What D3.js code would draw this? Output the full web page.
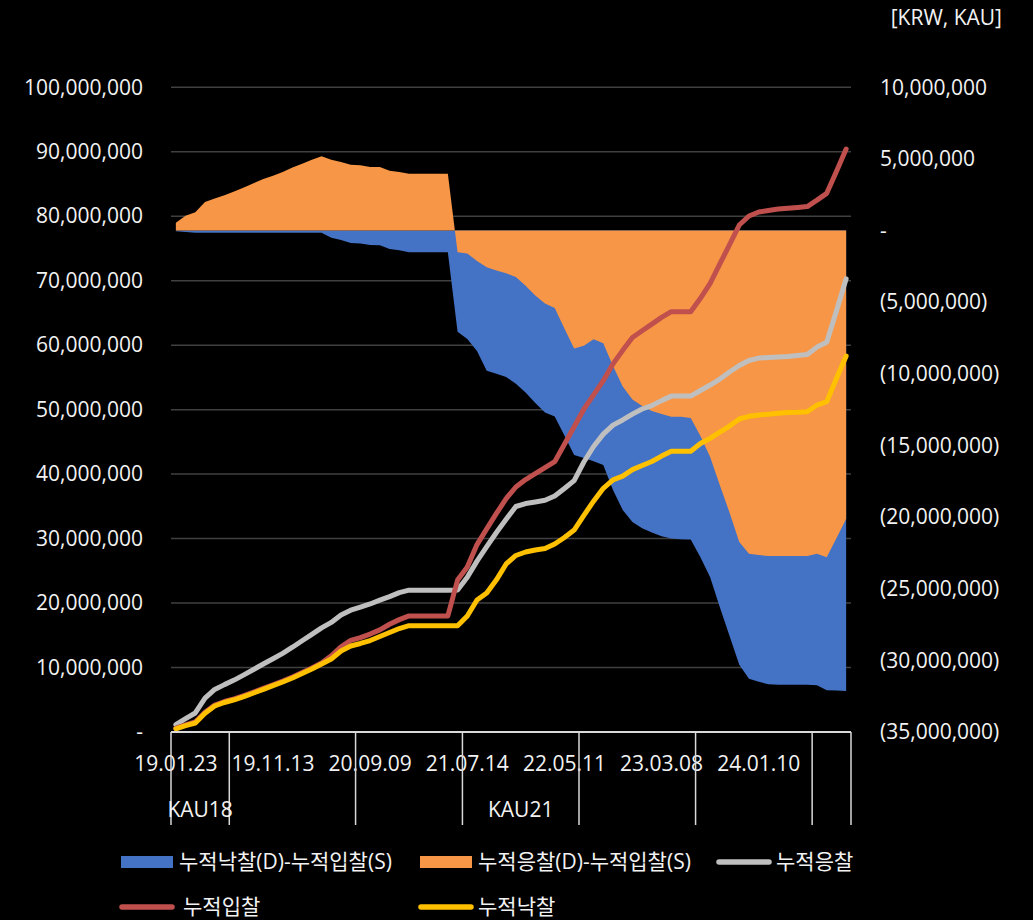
<!DOCTYPE html>
<meta charset="utf-8">
<style>
body {
  margin: 0;
  background-color: #000;
}
svg { display: block; }
.axis text,
.lbl {
  font: 21px "Open Sans", "Noto Sans CJK KR", sans-serif;
  fill: #f2f2f2;
}
.axis path,
.axis line { display: none; }
.grid line {
  stroke: #404040;
  stroke-width: 1.5px;
}
</style>
<body>
<svg id="chart" width="1033" height="920"></svg>
<script src="https://d3js.org/d3.v7.min.js"></script>
<script>
// values in millions (KRW, KAU)
var nCats = 70;
var dateLabels = ["19.01.23", "19.11.13", "20.09.09", "21.07.14", "22.05.11", "23.03.08", "24.01.10"];
var dateEvery = 10;
var groupBounds = [0, 6, 19, 30, 42, 54, 66, 70];
var groupNames = ["KAU18", "", "", "KAU21", "", "", ""];

// 누적응찰
var cumOffer = [1.15, 2.07, 2.95, 5.24, 6.6, 7.35, 8.05, 8.86, 9.7, 10.55,
  11.36, 12.2, 13.15, 14.16, 15.15, 16.16, 17.0, 18.15, 18.9, 19.37,
  19.86, 20.45, 21.0, 21.62, 22.0, 22.0, 22.0, 22.0, 22.0, 22.03,
  24.0, 26.5, 28.75, 30.95, 33.0, 34.98, 35.44, 35.68, 35.94, 36.6,
  37.77, 39.0, 41.88, 44.28, 46.2, 47.6, 48.4, 49.3, 50.1, 50.64,
  51.4, 52.1, 52.1, 52.1, 52.97, 53.82, 54.75, 55.84, 56.85, 57.62,
  58.0, 58.09, 58.17, 58.24, 58.4, 58.55, 59.7, 60.44, 65.3, 70.3];
// 누적입찰
var cumBid = [0.6, 1.1, 1.55, 3.05, 4.18, 4.73, 5.15, 5.65, 6.2, 6.77,
  7.33, 7.91, 8.53, 9.22, 9.92, 10.7, 11.82, 13.22, 14.21, 14.64,
  15.19, 15.84, 16.71, 17.43, 18.01, 18.01, 18.01, 18.01, 18.01, 23.57,
  25.6, 29.07, 31.5, 33.9, 36.2, 38.0, 39.15, 40.07, 41.0, 41.93,
  44.64, 47.35, 50.07, 52.3, 54.5, 57.1, 59.2, 61.2, 62.23, 63.27,
  64.31, 65.2, 65.2, 65.2, 67.27, 69.6, 72.6, 75.6, 78.64, 80.04,
  80.66, 80.89, 81.13, 81.25, 81.37, 81.5, 82.5, 83.55, 86.94, 90.43];
// 누적낙찰
var cumWin = [0.5, 1.0, 1.4, 2.9, 4.03, 4.58, 5.0, 5.5, 6.05, 6.62,
  7.18, 7.76, 8.38, 9.07, 9.77, 10.55, 11.32, 12.56, 13.34, 13.73,
  14.19, 14.81, 15.43, 16.05, 16.49, 16.49, 16.49, 16.49, 16.49, 16.49,
  18.0, 20.47, 21.56, 23.6, 26.06, 27.38, 27.92, 28.23, 28.46, 29.16,
  30.17, 31.33, 33.6, 35.8, 37.8, 39.1, 39.7, 40.7, 41.34, 41.96,
  42.8, 43.55, 43.55, 43.55, 44.75, 45.55, 46.53, 47.46, 48.55, 48.97,
  49.17, 49.3, 49.44, 49.56, 49.6, 49.68, 50.72, 51.23, 54.83, 58.32];
// 누적낙찰(D)-누적입찰(S)
var diffWin = [-0.05, -0.1, -0.15, -0.15, -0.15, -0.15, -0.15, -0.15, -0.15, -0.15,
  -0.15, -0.15, -0.15, -0.15, -0.15, -0.15, -0.5, -0.66, -0.87, -0.91,
  -1.0, -1.03, -1.28, -1.38, -1.52, -1.52, -1.52, -1.52, -1.52, -7.06,
  -7.57, -8.4, -9.78, -10.0, -10.22, -10.7, -11.3, -12.04, -12.7, -12.98,
  -14.3, -15.67, -15.88, -16.1, -16.37, -18.1, -19.5, -20.35, -20.77, -21.08,
  -21.33, -21.5, -21.54, -21.56, -22.8, -24.2, -26.3, -28.3, -30.3, -31.28,
  -31.5, -31.66, -31.7, -31.7, -31.7, -31.7, -31.73, -32.08, -32.1, -32.13];
// 누적응찰(D)-누적입찰(S)
var diffOffer = [0.55, 1.04, 1.28, 2.0, 2.23, 2.46, 2.72, 3.0, 3.3, 3.6,
  3.83, 4.09, 4.4, 4.67, 4.95, 5.19, 4.95, 4.79, 4.6, 4.56,
  4.44, 4.44, 4.18, 4.09, 3.97, 3.97, 3.97, 3.97, 3.97, -1.52,
  -1.6, -2.12, -2.56, -2.79, -2.98, -3.24, -3.85, -4.53, -5.09, -5.4,
  -6.84, -8.23, -8.04, -7.59, -7.87, -9.46, -10.89, -11.8, -12.25, -12.6,
  -12.8, -13.0, -13.0, -13.09, -14.34, -15.8, -17.77, -19.69, -21.73, -22.55,
  -22.65, -22.72, -22.72, -22.72, -22.72, -22.71, -22.55, -22.81, -21.47, -20.14];

var leftTicks = d3.range(0, 100.1, 10);
var rightTicks = d3.range(-35, 10.1, 5);

var svg = d3.select("#chart");
var pLeft = 171, pRight = 851, pTop = 87.3, pBottom = 732;

var x = d3.scaleBand().domain(d3.range(nCats)).range([pLeft, pRight]).padding(0);
var cx = function(i) { return x(i) + x.bandwidth() / 2; };
var yL = d3.scaleLinear().domain([0, 100]).range([pBottom, pTop]);
var yR = d3.scaleLinear().domain([-35, 10]).range([pBottom, pTop]);

var fmt = d3.format(",");

// gridlines
svg.append("g").attr("class", "grid")
  .selectAll("line").data(leftTicks).enter().append("line")
  .attr("x1", pLeft).attr("x2", pRight)
  .attr("y1", function(d) { return yL(d); })
  .attr("y2", function(d) { return yL(d); });

// areas on right axis
var area = function(vals) {
  return d3.area()
    .x(function(d, i) { return cx(i); })
    .y0(yR(0))
    .y1(function(d) { return yR(d); })(vals);
};
svg.append("path").attr("d", area(diffWin)).attr("fill", "#4472C4");
svg.append("path").attr("d", area(diffOffer)).attr("fill", "#F79646");

// lines on left axis
var line = d3.line()
  .x(function(d, i) { return cx(i); })
  .y(function(d) { return yL(d); });
[[cumOffer, "#BFBFBF"], [cumBid, "#C0504D"], [cumWin, "#FFC000"]].forEach(function(s) {
  svg.append("path").attr("d", line(s[0]))
    .attr("fill", "none").attr("stroke", s[1])
    .attr("stroke-width", 5)
    .attr("stroke-linejoin", "round")
    .attr("stroke-linecap", "round");
});

// left axis
svg.append("g").attr("class", "axis")
  .attr("transform", "translate(" + pLeft + ",0)")
  .call(d3.axisLeft(yL).tickValues(leftTicks).tickSize(0).tickPadding(28)
    .tickFormat(function(d) { return d === 0 ? "-" : fmt(d * 1e6); }));

// right axis
svg.append("g").attr("class", "axis")
  .attr("transform", "translate(" + pRight + ",0)")
  .call(d3.axisRight(yR).tickValues(rightTicks).tickSize(0).tickPadding(29)
    .tickFormat(function(d) {
      if (d === 0) return "-";
      return d < 0 ? "(" + fmt(-d * 1e6) + ")" : fmt(d * 1e6);
    }));

svg.append("text").attr("class", "lbl")
  .attr("x", 1002).attr("y", 25)
  .attr("text-anchor", "end")
  .text("[KRW, KAU]");

// category axis
svg.append("line")
  .attr("x1", pLeft).attr("x2", pRight)
  .attr("y1", pBottom).attr("y2", pBottom)
  .attr("stroke", "#d9d9d9").attr("stroke-width", 2);

svg.selectAll(".dlab").data(dateLabels).enter().append("text")
  .attr("class", "lbl")
  .attr("x", function(d, i) { return cx(i * dateEvery); })
  .attr("y", 771)
  .attr("text-anchor", "middle")
  .text(function(d) { return d; });

svg.selectAll(".gline").data(groupBounds).enter().append("line")
  .attr("x1", function(d) { return d < nCats ? x(d) : pRight; })
  .attr("x2", function(d) { return d < nCats ? x(d) : pRight; })
  .attr("y1", pBottom).attr("y2", 825)
  .attr("stroke", "#d9d9d9").attr("stroke-width", 1.5);

svg.selectAll(".glab").data(groupNames).enter().append("text")
  .attr("class", "lbl")
  .attr("x", function(d, i) {
    return (x(groupBounds[i]) + (groupBounds[i + 1] < nCats ? x(groupBounds[i + 1]) : pRight)) / 2;
  })
  .attr("y", 817)
  .attr("text-anchor", "middle")
  .text(function(d) { return d; });

// legend
var legend = [
  {name: "누적낙찰(D)-누적입찰(S)", color: "#4472C4", type: "rect", x: 121, y: 862, tx: 179},
  {name: "누적응찰(D)-누적입찰(S)", color: "#F79646", type: "rect", x: 420, y: 862, tx: 478},
  {name: "누적응찰", color: "#BFBFBF", type: "line", x: 719, y: 862, tx: 776},
  {name: "누적입찰", color: "#C0504D", type: "line", x: 122, y: 907, tx: 183},
  {name: "누적낙찰", color: "#FFC000", type: "line", x: 421, y: 907, tx: 478}
];
legend.forEach(function(l) {
  if (l.type === "rect") {
    svg.append("rect").attr("x", l.x).attr("y", l.y - 6)
      .attr("width", 52).attr("height", 12).attr("fill", l.color);
  } else {
    svg.append("line").attr("x1", l.x).attr("x2", l.x + 50)
      .attr("y1", l.y).attr("y2", l.y)
      .attr("stroke", l.color).attr("stroke-width", 5.5)
      .attr("stroke-linecap", "round");
  }
  svg.append("text").attr("class", "lbl")
    .attr("x", l.tx).attr("y", l.y).attr("dy", "0.35em")
    .text(l.name);
});
</script>
</body>
